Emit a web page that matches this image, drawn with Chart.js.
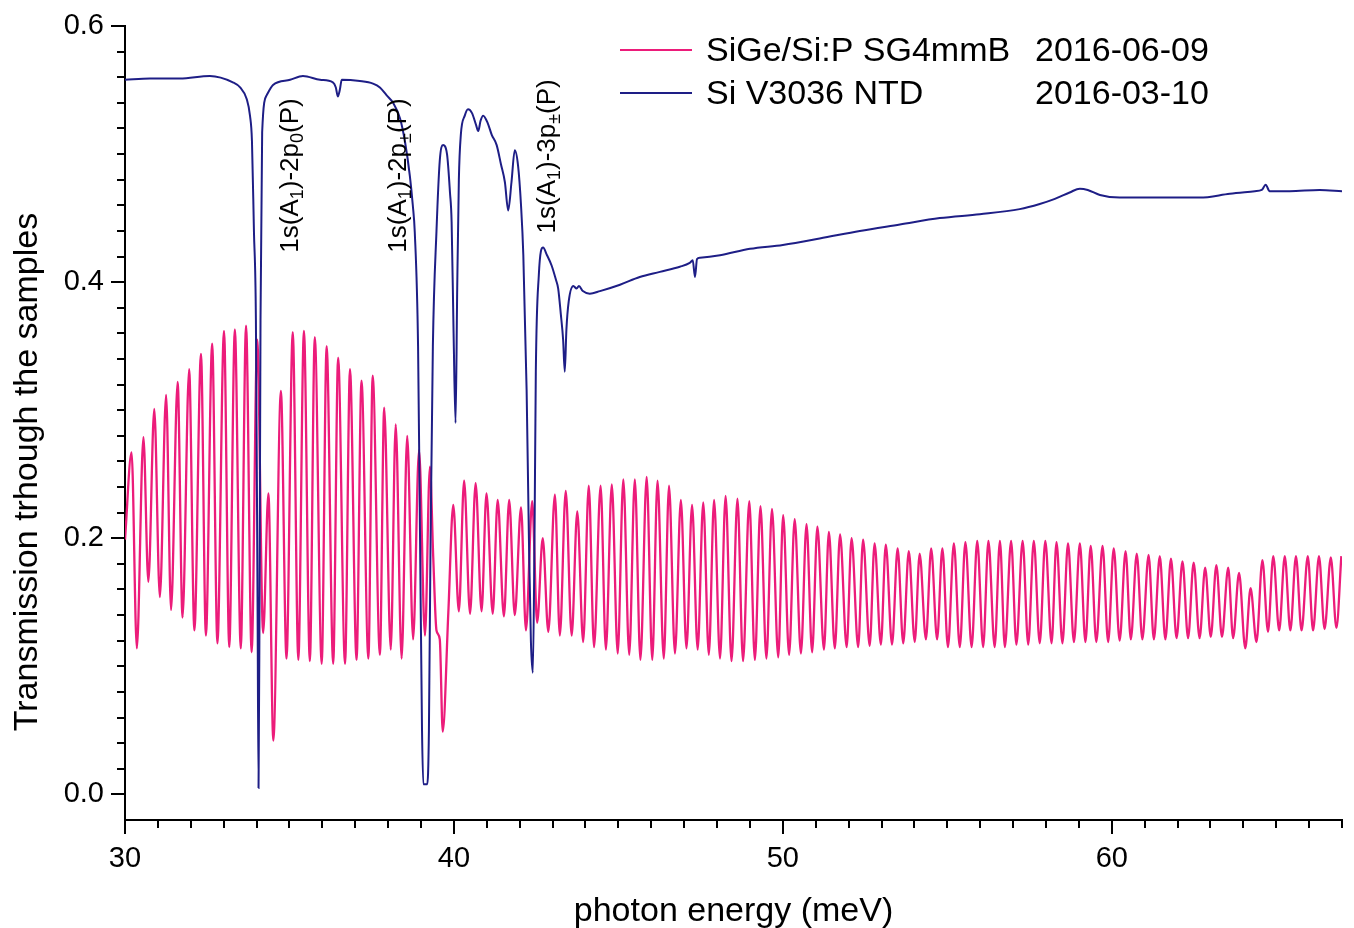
<!DOCTYPE html>
<html>
<head>
<meta charset="utf-8">
<title>Transmission spectra</title>
<script src="https://cdn.jsdelivr.net/npm/chart.js@4.4.1/dist/chart.umd.min.js"></script>
<style>
  html, body { margin: 0; padding: 0; background: #fff; }
  canvas { display: block; }
</style>
</head>
<body>
<canvas id="spectra" width="1354" height="928"></canvas>
<script>
// photon energy (meV) and transmission, SiGe/Si:P sample (fringe maxima and minima)
const pinkEnergy = [
  30.00, 30.20, 30.36, 30.56, 30.71, 30.89, 31.06, 31.25, 31.40, 31.60, 31.75, 31.95, 32.11, 32.31, 32.46, 32.65,
  32.81, 33.01, 33.17, 33.34, 33.52, 33.68, 33.85, 34.02, 34.20, 34.36, 34.51, 34.74, 34.91, 35.10, 35.27, 35.44,
  35.62, 35.77, 35.98, 36.13, 36.33, 36.48, 36.69, 36.84, 37.04, 37.19, 37.40, 37.53, 37.75, 37.88, 38.08, 38.23,
  38.41, 38.58, 38.76, 38.94, 39.12, 39.27, 39.37, 39.47, 39.57, 39.66, 39.83, 39.98, 40.15, 40.31, 40.49, 40.66,
  40.84, 40.99, 41.18, 41.33, 41.52, 41.68, 41.85, 42.04, 42.19, 42.38, 42.53, 42.70, 42.87, 43.07, 43.22, 43.40,
  43.58, 43.75, 43.93, 44.10, 44.26, 44.46, 44.62, 44.80, 44.98, 45.15, 45.33, 45.50, 45.67, 45.86, 46.03, 46.19,
  46.38, 46.54, 46.72, 46.90, 47.07, 47.24, 47.41, 47.58, 47.75, 47.91, 48.09, 48.26, 48.44, 48.62, 48.79, 48.98,
  49.15, 49.32, 49.50, 49.67, 49.86, 50.01, 50.19, 50.36, 50.55, 50.72, 50.89, 51.05, 51.25, 51.40, 51.58, 51.74,
  51.94, 52.09, 52.29, 52.44, 52.64, 52.79, 52.98, 53.13, 53.32, 53.49, 53.66, 53.83, 54.01, 54.16, 54.35, 54.51,
  54.69, 54.85, 55.02, 55.20, 55.38, 55.55, 55.74, 55.91, 56.09, 56.25, 56.44, 56.60, 56.75, 56.94, 57.10, 57.29,
  57.46, 57.63, 57.81, 57.98, 58.17, 58.32, 58.50, 58.67, 58.85, 59.03, 59.20, 59.36, 59.53, 59.72, 59.89, 60.06,
  60.24, 60.42, 60.58, 60.76, 60.93, 61.12, 61.28, 61.46, 61.63, 61.80, 61.97, 62.15, 62.32, 62.49, 62.67, 62.84,
  63.01, 63.18, 63.35, 63.54, 63.69, 63.87, 64.06, 64.22, 64.40, 64.58, 64.75, 64.91, 65.09, 65.26, 65.43, 65.60,
  65.77, 65.96, 66.12, 66.30, 66.47, 66.66, 66.83, 66.98
];
const pinkTrans = [
  0.199, 0.267, 0.114, 0.279, 0.166, 0.301, 0.154, 0.312, 0.144, 0.322, 0.138, 0.332, 0.128, 0.344, 0.124, 0.352,
  0.118, 0.362, 0.115, 0.363, 0.114, 0.366, 0.111, 0.355, 0.126, 0.235, 0.042, 0.315, 0.106, 0.361, 0.105, 0.362,
  0.104, 0.357, 0.102, 0.350, 0.102, 0.341, 0.102, 0.332, 0.105, 0.323, 0.106, 0.327, 0.109, 0.302, 0.113, 0.289,
  0.106, 0.280, 0.121, 0.269, 0.124, 0.256, 0.186, 0.128, 0.121, 0.049, 0.142, 0.226, 0.143, 0.245, 0.141, 0.243,
  0.143, 0.235, 0.141, 0.230, 0.139, 0.230, 0.140, 0.224, 0.128, 0.229, 0.134, 0.200, 0.127, 0.234, 0.124, 0.237,
  0.124, 0.221, 0.119, 0.241, 0.115, 0.241, 0.113, 0.242, 0.110, 0.246, 0.109, 0.246, 0.105, 0.248, 0.105, 0.245,
  0.106, 0.241, 0.110, 0.230, 0.114, 0.226, 0.113, 0.228, 0.109, 0.230, 0.106, 0.233, 0.104, 0.231, 0.104, 0.229,
  0.105, 0.225, 0.106, 0.223, 0.107, 0.218, 0.109, 0.215, 0.110, 0.211, 0.111, 0.209, 0.113, 0.205, 0.114, 0.203,
  0.115, 0.200, 0.115, 0.199, 0.116, 0.196, 0.117, 0.195, 0.117, 0.192, 0.118, 0.190, 0.119, 0.188, 0.121, 0.192,
  0.121, 0.192, 0.115, 0.196, 0.115, 0.197, 0.115, 0.198, 0.115, 0.198, 0.115, 0.198, 0.115, 0.198, 0.117, 0.198,
  0.117, 0.198, 0.118, 0.198, 0.118, 0.197, 0.118, 0.196, 0.119, 0.196, 0.119, 0.194, 0.119, 0.194, 0.119, 0.192,
  0.120, 0.190, 0.121, 0.188, 0.121, 0.187, 0.121, 0.186, 0.121, 0.184, 0.122, 0.182, 0.122, 0.181, 0.122, 0.177,
  0.123, 0.179, 0.123, 0.177, 0.122, 0.173, 0.114, 0.161, 0.119, 0.183, 0.127, 0.186, 0.128, 0.186, 0.128, 0.186,
  0.128, 0.186, 0.128, 0.186, 0.129, 0.185, 0.130, 0.186
];

// Si V3036 NTD reference sample
const blueEnergy = [
  30.00, 30.76, 31.67, 32.58, 33.28, 33.50, 33.70, 33.80, 33.86, 33.92, 33.98, 34.03, 34.06, 34.09, 34.12, 34.17,
  34.31, 34.50, 35.02, 35.41, 35.93, 36.32, 36.41, 36.47, 36.53, 36.59, 37.14, 37.54, 37.75, 37.95, 38.15, 38.36,
  38.51, 38.66, 38.75, 38.81, 38.91, 38.97, 39.03, 39.07, 39.19, 39.24, 39.29, 39.36, 39.47, 39.57, 39.67, 39.79,
  39.88, 39.93, 39.99, 40.05, 40.10, 40.15, 40.21, 40.33, 40.43, 40.55, 40.67, 40.74, 40.81, 40.89, 41.03, 41.15,
  41.30, 41.43, 41.55, 41.65, 41.75, 41.85, 41.95, 42.04, 42.11, 42.21, 42.28, 42.34, 42.40, 42.45, 42.49, 42.58,
  42.71, 42.83, 42.97, 43.10, 43.17, 43.25, 43.32, 43.37, 43.42, 43.49, 43.63, 43.73, 43.80, 43.92, 44.13, 44.44,
  45.05, 45.65, 46.26, 46.87, 47.17, 47.26, 47.33, 47.39, 47.48, 48.09, 49.00, 50.00, 51.12, 52.34, 53.56, 54.77,
  55.99, 57.20, 57.81, 58.27, 58.72, 59.03, 59.27, 59.64, 60.24, 61.16, 62.07, 62.67, 63.59, 64.35, 64.56, 64.68,
  64.80, 65.41, 66.32, 67.00
];
const blueTrans = [
  0.558, 0.559, 0.559, 0.561, 0.556, 0.552, 0.543, 0.530, 0.510, 0.440, 0.370, 0.150, 0.005, 0.150, 0.370, 0.517,
  0.546, 0.554, 0.558, 0.561, 0.558, 0.556, 0.552, 0.545, 0.550, 0.558, 0.557, 0.555, 0.552, 0.546, 0.540, 0.528,
  0.510, 0.483, 0.460, 0.439, 0.350, 0.200, 0.050, 0.008, 0.008, 0.050, 0.200, 0.350, 0.440, 0.495, 0.507, 0.500,
  0.470, 0.447, 0.360, 0.290, 0.395, 0.480, 0.515, 0.530, 0.535, 0.532, 0.523, 0.518, 0.526, 0.530, 0.524, 0.515,
  0.507, 0.492, 0.478, 0.456, 0.478, 0.503, 0.491, 0.460, 0.421, 0.316, 0.200, 0.120, 0.095, 0.200, 0.330, 0.405,
  0.427, 0.421, 0.413, 0.402, 0.395, 0.375, 0.355, 0.330, 0.363, 0.385, 0.397, 0.395, 0.397, 0.393, 0.391, 0.393,
  0.398, 0.404, 0.408, 0.412, 0.415, 0.417, 0.404, 0.418, 0.419, 0.421, 0.426, 0.429, 0.434, 0.440, 0.445, 0.450,
  0.453, 0.457, 0.461, 0.465, 0.470, 0.473, 0.472, 0.468, 0.466, 0.466, 0.466, 0.466, 0.469, 0.471, 0.472, 0.476,
  0.471, 0.471, 0.472, 0.471
];

const xTicks = [30, 40, 50, 60];
const yTicks = [0.0, 0.2, 0.4, 0.6];

const seriesNames = ['SiGe/Si:P SG4mmB', 'Si V3036 NTD'];
const seriesDates = ['2016-06-09', '2016-03-10'];
const seriesColors = ['#ec1c7a', '#1e1e86'];

// transition labels: [energy at baseline, transmission at text start, text pieces (1 = subscript)]
const lines = [
  [35.26, 0.423, [['1s(A', 0], ['1', 1], [')-2p', 0], ['0', 1], ['(P)', 0]]],
  [38.54, 0.423, [['1s(A', 0], ['1', 1], [')-2p', 0], ['\u00b1', 1], ['(P)', 0]]],
  [43.07, 0.438, [['1s(A', 0], ['1', 1], [')-3p', 0], ['\u00b1', 1], ['(P)', 0]]]
];

const FONT = "'Liberation Sans', Arial, sans-serif";

const toPoints = (xs, ys) => xs.map((x, i) => ({ x: x, y: ys[i] }));

// minor/major tick marks, axis titles, legend and line labels
const decor = {
  id: 'decor',
  afterDraw(chart) {
    const { ctx, chartArea: a } = chart;
    const x = chart.scales.x, y = chart.scales.y;
    ctx.save();
    ctx.strokeStyle = '#000';
    ctx.lineWidth = 2;
    ctx.beginPath();
    for (let v = 30; v <= 67; v++) {
      const px = Math.round(x.getPixelForValue(v));
      const len = v % 10 === 0 ? 14 : 8;
      ctx.moveTo(px, a.bottom);
      ctx.lineTo(px, a.bottom + len);
    }
    for (let i = 0; i <= 30; i++) {
      const py = Math.round(y.getPixelForValue(i * 0.02));
      const len = i % 10 === 0 ? 14 : 8;
      ctx.moveTo(a.left - len, py);
      ctx.lineTo(a.left, py);
    }
    ctx.stroke();

    // axis titles
    ctx.fillStyle = '#000';
    ctx.font = '34px ' + FONT;
    ctx.textAlign = 'center';
    ctx.textBaseline = 'alphabetic';
    ctx.fillText('photon energy (meV)', (a.left + a.right) / 2, 921);
    ctx.save();
    ctx.translate(37, 472);
    ctx.rotate(-Math.PI / 2);
    ctx.fillText('Transmission trhough the samples', 0, 0);
    ctx.restore();

    // legend
    ctx.textAlign = 'left';
    ctx.textBaseline = 'middle';
    const legendY = [50, 93];
    for (let i = 0; i < 2; i++) {
      ctx.strokeStyle = seriesColors[i];
      ctx.lineWidth = 2;
      ctx.beginPath();
      ctx.moveTo(620, legendY[i]);
      ctx.lineTo(692, legendY[i]);
      ctx.stroke();
      ctx.fillStyle = '#000';
      ctx.fillText(seriesNames[i], 706, legendY[i] + 2);
      ctx.fillText(seriesDates[i], 1035, legendY[i] + 2);
    }

    // vertical transition labels
    ctx.textBaseline = 'alphabetic';
    for (const [e, t, parts] of lines) {
      ctx.save();
      ctx.translate(x.getPixelForValue(e), y.getPixelForValue(t));
      ctx.rotate(-Math.PI / 2);
      let off = 0;
      for (const [txt, sub] of parts) {
        ctx.font = (sub ? '18px ' : '26px ') + FONT;
        ctx.fillText(txt, off, sub ? 5 : 0);
        off += ctx.measureText(txt).width;
      }
      ctx.restore();
    }
    ctx.restore();
  }
};

new Chart(document.getElementById('spectra'), {
  type: 'line',
  data: {
    datasets: [
      {
        label: seriesNames[1],
        data: toPoints(blueEnergy, blueTrans),
        borderColor: seriesColors[1],
        borderWidth: 2,
        pointRadius: 0,
        cubicInterpolationMode: 'monotone',
        order: 0
      },
      {
        label: seriesNames[0],
        data: toPoints(pinkEnergy, pinkTrans),
        borderColor: seriesColors[0],
        borderWidth: 2.3,
        pointRadius: 0,
        cubicInterpolationMode: 'monotone',
        order: 1
      }
    ]
  },
  options: {
    responsive: false,
    devicePixelRatio: 1,
    animation: false,
    events: [],
    layout: { padding: { top: 26, right: 12, left: 0, bottom: 0 } },
    plugins: { legend: { display: false }, tooltip: { enabled: false } },
    scales: {
      x: {
        type: 'linear',
        min: 30,
        max: 67,
        afterBuildTicks: s => { s.ticks = xTicks.map(v => ({ value: v })); },
        afterFit: s => { s.height = 108; s.paddingLeft = 0; s.paddingRight = 0; },
        grid: { display: false, drawTicks: false },
        border: { display: true, color: '#000', width: 2 },
        ticks: {
          padding: 22,
          color: '#000',
          maxRotation: 0,
          autoSkip: false,
          font: { family: FONT, size: 29 }
        }
      },
      y: {
        type: 'linear',
        min: -0.02,
        max: 0.6,
        afterBuildTicks: s => { s.ticks = yTicks.map(v => ({ value: v })); },
        afterFit: s => { s.width = 125; s.paddingTop = 0; s.paddingBottom = 0; },
        grid: { display: false, drawTicks: false },
        border: { display: true, color: '#000', width: 2 },
        ticks: {
          padding: 21,
          color: '#000',
          autoSkip: false,
          font: { family: FONT, size: 29 },
          callback: v => Number(v).toFixed(1)
        }
      }
    }
  },
  plugins: [decor]
});
</script>
</body>
</html>
